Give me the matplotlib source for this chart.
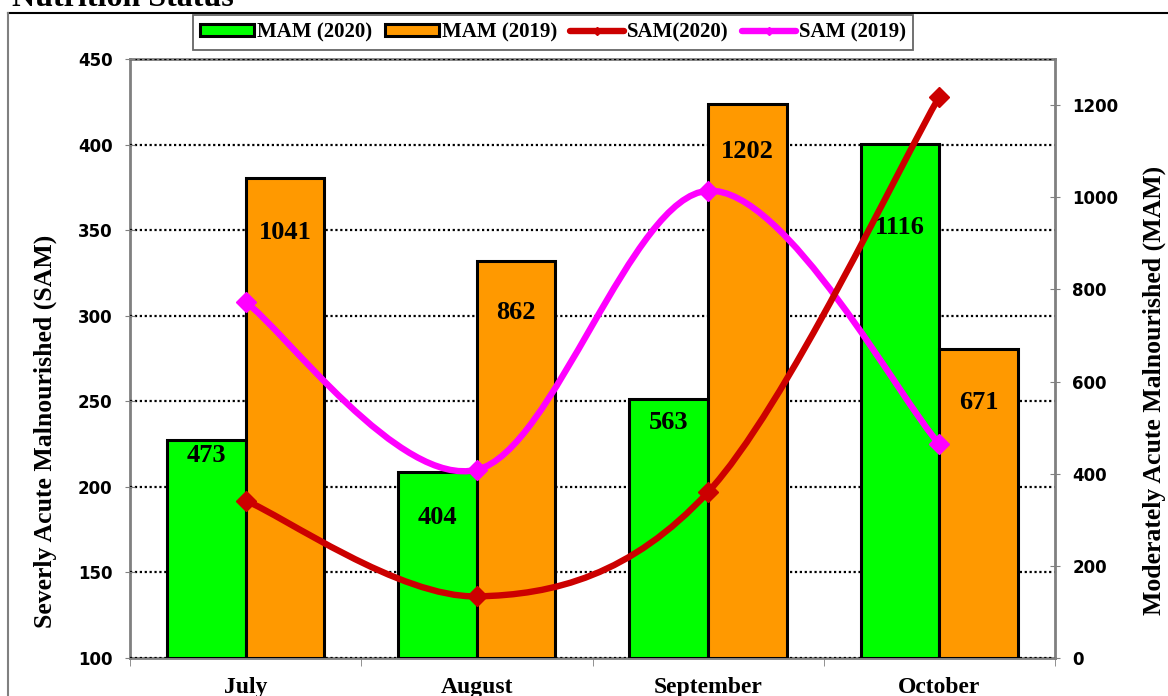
import matplotlib
matplotlib.use('Agg')
import matplotlib.pyplot as plt
import numpy as np
from matplotlib.path import Path
from matplotlib.patches import PathPatch, Patch
from matplotlib.lines import Line2D

# Chart data
months = ['July', 'August', 'September', 'October']
mam_2020 = [473, 404, 563, 1116]
mam_2019 = [1041, 862, 1202, 671]
sam_2020 = [192, 136, 197, 428]
sam_2019 = [308, 210, 373, 225]

# how far (points) each bar label sits below the bar top
drop_2020 = [11, 33, 17, 60]
drop_2019 = [39, 37, 34, 39]

SERIF = 'Liberation Serif'
GREY = '#808080'


# Excel-like smoothed line: cubic bezier through the points (catmull-rom style)
def smooth_path(xs, ys):
    pts = np.column_stack([xs, ys]).astype(float)
    n = len(pts)
    verts = [pts[0]]
    codes = [Path.MOVETO]
    for i in range(n - 1):
        p0 = pts[max(i - 1, 0)]
        p1 = pts[i]
        p2 = pts[i + 1]
        p3 = pts[min(i + 2, n - 1)]
        verts += [p1 + (p2 - p0) / 6, p2 - (p3 - p1) / 6, p2]
        codes += [Path.CURVE4] * 3
    return Path(verts, codes)


fig = plt.figure(figsize=(11.68, 6.96), dpi=100)
W, H = 1168, 696
ax = fig.add_axes([130 / W, 1 - 658 / H, 925 / W, 599 / H])
ax2 = ax.twinx()

x = np.arange(len(months))
bw = 0.34

# left axis (SAM) - only carries the grid and ticks
ax.set_xlim(-0.5, 3.5)
ax.set_ylim(100, 450)
ax.set_yticks(np.arange(100, 451, 50))
ax.grid(axis='y', color='black', linestyle=(0, (1, 1.2)), linewidth=1.6)
ax.yaxis.set_zorder(3)

# right axis (MAM) - bars and lines live here
ax2.set_ylim(0, 1300)
ax2.set_yticks(np.arange(0, 1201, 200))

ax2.bar(x - bw / 2, mam_2020, bw, color='#00FF00', edgecolor='black', linewidth=2.2, zorder=2)
ax2.bar(x + bw / 2, mam_2019, bw, color='#FF9900', edgecolor='black', linewidth=2.2, zorder=2)

for i in range(len(months)):
    ax2.annotate(str(mam_2020[i]), xy=(x[i] - bw / 2, mam_2020[i]), xytext=(0, -drop_2020[i]),
                 textcoords='offset points', ha='center', va='center',
                 fontsize=19, fontweight='bold', family=SERIF, zorder=4)
    ax2.annotate(str(mam_2019[i]), xy=(x[i] + bw / 2, mam_2019[i]), xytext=(0, -drop_2019[i]),
                 textcoords='offset points', ha='center', va='center',
                 fontsize=19, fontweight='bold', family=SERIF, zorder=4)

# SAM lines use the left axis scale but draw on top of the bars
for vals, col in [(sam_2019, '#FF00FF'), (sam_2020, '#CC0000')]:
    ax2.add_patch(PathPatch(smooth_path(x, vals), fill=False, edgecolor=col, linewidth=4.6,
                            capstyle='round', joinstyle='round', transform=ax.transData, zorder=5))
    ax2.plot(x, vals, linestyle='none', marker='D', markersize=10, color=col,
             transform=ax.transData, zorder=6)
ax2.set_ylim(0, 1300)

# spines
for s in ['left', 'top', 'bottom']:
    ax2.spines[s].set_visible(False)
ax2.spines['right'].set_color(GREY)
ax2.spines['right'].set_linewidth(2)
ax.spines['right'].set_visible(False)
for s in ['left', 'bottom', 'top']:
    ax.spines[s].set_color(GREY)
    ax.spines[s].set_linewidth(2)

# ticks
ax.set_xticks(x)
ax.set_xticklabels(months, fontsize=17, fontweight='bold', family=SERIF)
ax.set_xticks(np.arange(-0.5, 3.6, 1), minor=True)
ax.tick_params(axis='x', which='major', length=0, pad=14)
ax.tick_params(axis='x', which='minor', length=6, color=GREY, direction='out')
ax.tick_params(axis='y', direction='inout', length=7, color=GREY, pad=9)
ax2.tick_params(axis='y', direction='inout', length=7, color=GREY, pad=9)
for lab in ax.get_yticklabels() + ax2.get_yticklabels():
    lab.set_fontsize(12)
    lab.set_fontweight('bold')
    lab.set_family('DejaVu Sans')

# axis titles
ax.set_ylabel('Severly Acute Malnourished (SAM)', fontsize=18.5, fontweight='bold', family=SERIF)
ax.yaxis.set_label_coords((45 - 130) / 925, 0.379)
ax.yaxis.label.set_va('center')
ax2.set_ylabel('Moderately Acute Malnourished (MAM)', fontsize=18.5, fontweight='bold', family=SERIF)
ax2.yaxis.set_label_coords((1154 - 130) / 925, 0.447)
ax2.yaxis.label.set_va('center')

# legend
handles = [
    Patch(facecolor='#00FF00', edgecolor='black', linewidth=2.2),
    Patch(facecolor='#FF9900', edgecolor='black', linewidth=2.2),
    Line2D([], [], color='#CC0000', linewidth=4.6, marker='D', markersize=4, solid_capstyle='round'),
    Line2D([], [], color='#FF00FF', linewidth=4.6, marker='D', markersize=4, solid_capstyle='round'),
]
labels = ['MAM (2020)', 'MAM (2019)', 'SAM(2020)', 'SAM (2019)']
leg = fig.legend(handles, labels, loc='center', bbox_to_anchor=(553 / W, 1 - 32.5 / H), ncol=4,
                 prop={'family': SERIF, 'weight': 'bold', 'size': 15}, frameon=True, fancybox=False,
                 handlelength=2.6, handleheight=0.5, handletextpad=0.15, columnspacing=0.6,
                 borderpad=0.35, borderaxespad=0)
leg.get_frame().set_edgecolor('#404040')
leg.get_frame().set_linewidth(1.3)
leg.set_zorder(10)

# chart frame and (cropped) title
fig.add_artist(Line2D([8 / W, 1], [1 - 13 / H, 1 - 13 / H], color='black', linewidth=1.5))
fig.add_artist(Line2D([8 / W, 8 / W], [0, 1 - 13 / H], color=GREY, linewidth=1.5))
fig.text(12 / W, 1 - 6 / H, 'Nutrition Status', fontsize=23, fontweight='bold', family=SERIF,
         ha='left', va='baseline')

fig.savefig('out.png', dpi=100)
